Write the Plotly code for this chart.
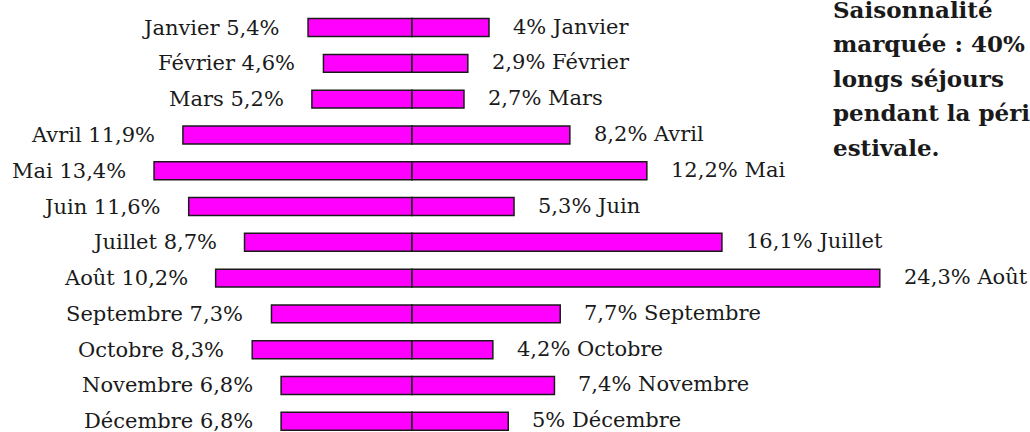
import plotly.graph_objects as go

months = ["Janvier", "Février", "Mars", "Avril", "Mai", "Juin", "Juillet",
          "Août", "Septembre", "Octobre", "Novembre", "Décembre"]
left_values = [5.4, 4.6, 5.2, 11.9, 13.4, 11.6, 8.7, 10.2, 7.3, 8.3, 6.8, 6.8]
right_values = [4, 2.9, 2.7, 8.2, 12.2, 5.3, 16.1, 24.3, 7.7, 4.2, 7.4, 5]
note_lines = ["Saisonnalité", "marquée : 40% des", "longs séjours",
              "pendant la période", "estivale."]

FONT = "DejaVu Serif"
INK = "#1a1a1a"
MAGENTA = "#ff00ff"
PX_PER_PCT = 19.25


def fmt(v):
    return f"{v:g}".replace(".", ",") + "%"


rows = list(range(len(months)))
fig = go.Figure()

# left half (negative), right half (positive), both starting at 0
fig.add_trace(go.Bar(y=rows, x=[-v for v in left_values], orientation="h",
                     width=0.5, marker=dict(color=MAGENTA, line=dict(color=INK, width=1.5)),
                     hoverinfo="skip"))
fig.add_trace(go.Bar(y=rows, x=right_values, orientation="h",
                     width=0.5, marker=dict(color=MAGENTA, line=dict(color=INK, width=1.5)),
                     hoverinfo="skip"))

for i, m in enumerate(months):
    fig.add_annotation(x=-left_values[i], y=i, text=f"{m} {fmt(left_values[i])}",
                       xanchor="right", xshift=-26, showarrow=False,
                       font=dict(family=FONT, size=21, color=INK))
    fig.add_annotation(x=right_values[i], y=i, text=f"{fmt(right_values[i])} {m}",
                       xanchor="left", xshift=22, yshift=1, showarrow=False,
                       font=dict(family=FONT, size=21, color=INK))

# side note, one annotation per line for the wide line spacing
for j, line in enumerate(note_lines):
    fig.add_annotation(xref="paper", yref="paper", x=831 / 1030, y=1 - (9 + 34.5 * j) / 432,
                       text=line, xanchor="left", yanchor="middle", showarrow=False,
                       font=dict(family=FONT, size=23, color=INK, weight=600))

fig.update_layout(
    width=1030, height=432,
    margin=dict(l=0, r=0, t=0, b=0),
    paper_bgcolor="white", plot_bgcolor="white",
    barmode="relative", showlegend=False,
    xaxis=dict(range=[-412 / PX_PER_PCT, 618 / PX_PER_PCT], visible=False, fixedrange=True),
    yaxis=dict(range=[11.3, -0.77], visible=False, fixedrange=True),
)

fig.write_html("out.html", config={"displayModeBar": False},
               post_script="document.body.style.margin='0';document.body.style.overflow='hidden';")
